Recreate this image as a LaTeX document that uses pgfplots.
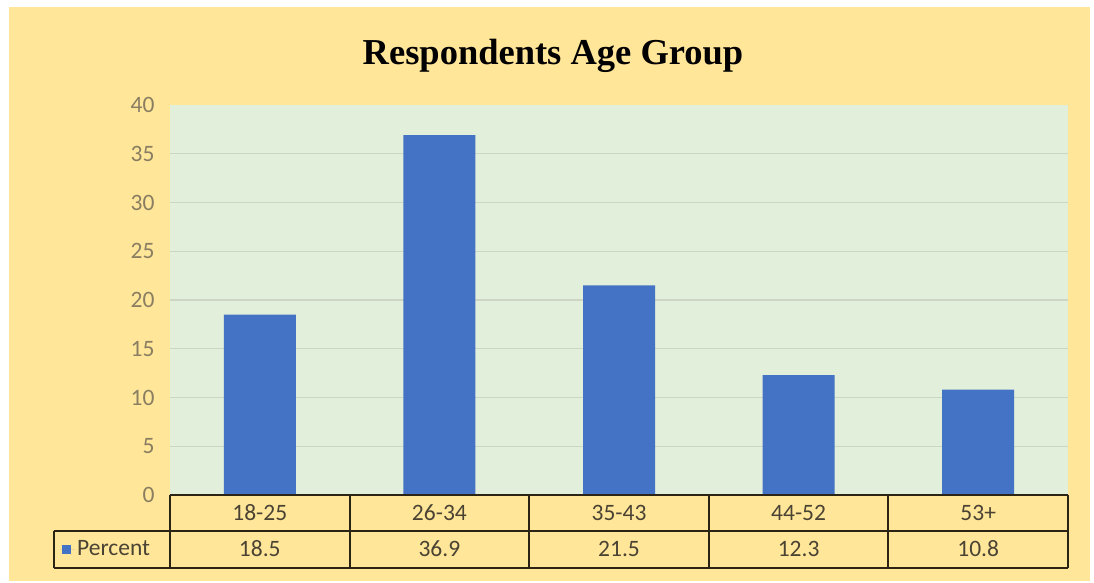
\documentclass[border=0pt]{standalone}
\usepackage{fontspec}
\setmainfont{Carlito}
\newfontfamily\titleserif{Liberation Serif}
\usepackage{pgfplots}
\usepackage{pgfplotstable}
\pgfplotsset{compat=1.18}
\definecolor{outerbg}{HTML}{FFE699}
\definecolor{plotgreen}{HTML}{E2EFDA}
\definecolor{barblue}{HTML}{4472C4}
\definecolor{gridc}{HTML}{CDD6C5}
\definecolor{tickgray}{HTML}{8A7E62}
\definecolor{tabtext}{HTML}{4A4334}
\definecolor{tabline}{HTML}{2B2414}
\newcommand\tabfont{\fontsize{23.5}{27}\selectfont}

\pgfplotstableread{
x label value
0 18-25 18.5
1 26-34 36.9
2 35-43 21.5
3 44-52 12.3
4 53+ 10.8
}\agedata

\begin{document}
\begin{tikzpicture}[x=1pt,y=1pt]
\useasboundingbox (0,0) rectangle (1094,583);
\fill[white] (0,0) rectangle (1094,583);
\fill[outerbg] (9,2) rectangle (1090,576);
\node[font={\titleserif\bfseries\fontsize{36.5}{42}\selectfont}, text=black, anchor=base] at (553,518) {Respondents Age Group};
\begin{axis}[
  at={(170pt,88pt)}, anchor=south west,
  width=898pt, height=390pt, scale only axis,
  xmin=-0.5, xmax=4.5, ymin=0, ymax=40,
  ytick={0,5,...,35}, xtick=\empty,
  extra y ticks={40}, extra y tick style={grid=none},
  axis background/.style={fill=plotgreen},
  axis line style={draw=none},
  major tick length=0pt,
  ymajorgrids, grid style={gridc, line width=1.3pt},
  /pgf/number format/assume math mode=true,
  yticklabel style={font=\tabfont, text=tickgray, xshift=-12pt},
  clip=false,
  legend style={at={(-0.1225,-0.1385)}, anchor=west, draw=none, fill=none, font=\tabfont, text=tabtext, inner sep=0pt},
]
\addplot[ybar, bar shift=0pt, bar width=72pt, fill=barblue, draw=none,
  area legend,
  legend image code/.code={\fill[barblue] (2pt,-4.5pt) rectangle (11pt,4.5pt); \path (0pt,0pt) -- (15pt,0pt);}]
  table[x=x, y=value]{\agedata};
\addlegendentry{Percent}
\addplot[draw=none, mark=none, forget plot, point meta=explicit symbolic,
  nodes near coords,
  every node near coord/.append style={anchor=center, font=\tabfont, text=tabtext, inner sep=0pt}]
  table[x=x, y expr=-1.85, meta=label]{\agedata};
\addplot[draw=none, mark=none, forget plot, point meta=explicit,
  nodes near coords,
  nodes near coords style={/pgf/number format/fixed, /pgf/number format/precision=1},
  every node near coord/.append style={anchor=center, font=\tabfont, text=tabtext, inner sep=0pt}]
  table[x=x, y expr=-5.54, meta=value]{\agedata};
% table grid
\draw[tabline, line width=2pt] (axis cs:-0.5,0) -- (axis cs:4.5,0);
\draw[tabline, line width=2pt] (axis cs:-1.146,-3.69) -- (axis cs:4.5,-3.69);
\draw[tabline, line width=2pt] (axis cs:-1.146,-7.49) -- (axis cs:4.5,-7.49);
\draw[tabline, line width=2pt] (axis cs:-1.146,-3.69) -- (axis cs:-1.146,-7.49);
\draw[tabline, line width=2pt] (axis cs:-0.5,0) -- (axis cs:-0.5,-7.49);
\draw[tabline, line width=2pt] (axis cs:0.5,0) -- (axis cs:0.5,-7.49);
\draw[tabline, line width=2pt] (axis cs:1.5,0) -- (axis cs:1.5,-7.49);
\draw[tabline, line width=2pt] (axis cs:2.5,0) -- (axis cs:2.5,-7.49);
\draw[tabline, line width=2pt] (axis cs:3.5,0) -- (axis cs:3.5,-7.49);
\draw[tabline, line width=2pt] (axis cs:4.5,0) -- (axis cs:4.5,-7.49);
\end{axis}
\end{tikzpicture}
\end{document}
